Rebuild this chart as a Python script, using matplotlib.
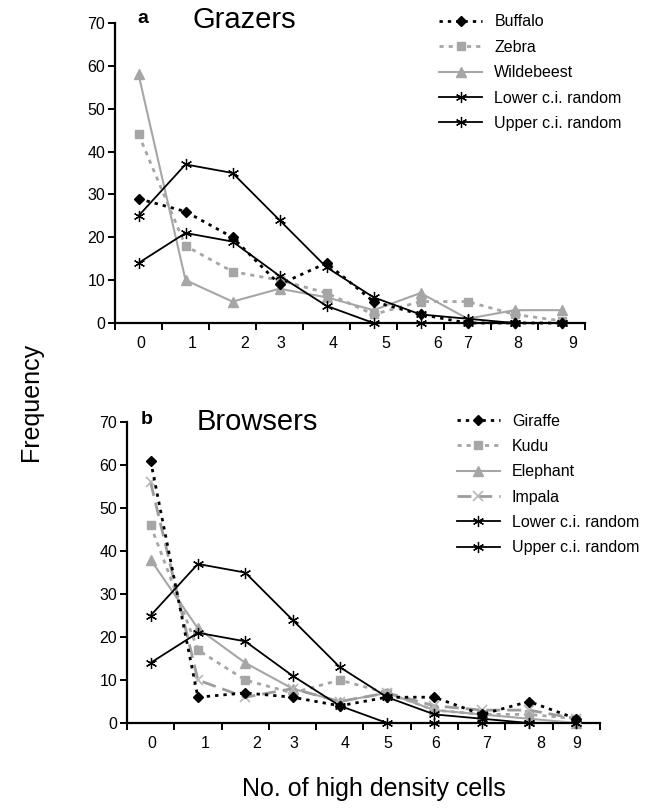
import matplotlib.pyplot as plt
import numpy as np

plt.rcParams['font.family'] = ['Liberation Sans', 'DejaVu Sans']

# x categories (number of high density cells)
cats = list(range(10))
xlabels = ['0', '1', '2', '3', '4', '5', '6', '7', '8', '9']
# label positions as they sit under the axis (hand placed in the original)
xlab_pos_a = [0.54, 1.65, 2.76, 3.52, 4.65, 5.76, 6.87, 7.5, 8.57, 9.73]
xlab_pos_b = [0.52, 1.65, 2.74, 3.52, 4.62, 5.51, 6.52, 7.61, 8.75, 9.51]

# random confidence intervals (same in both panels)
lower_ci = [14, 21, 19, 11, 4, 0, 0, 0, 0, 0]
upper_ci = [25, 37, 35, 24, 13, 6, 2, 1, 0, 0]

# grazers
buffalo = [29, 26, 20, 9, 14, 5, 2, 0, 0, 0]
zebra = [44, 18, 12, 10, 7, 2, 5, 5, 2, 0.5]
wildebeest = [58, 10, 5, 8, 6, 3, 7, 1, 3, 3]

# browsers
giraffe = [61, 6, 7, 6, 4, 6, 6, 2, 5, 1]
kudu = [46, 17, 10, 7, 10, 7, 3, 2, 2, 1]
elephant = [38, 22, 14, 8, 5, 7, 3, 2, 1, 0]
impala = [56, 10, 6, 8, 5, 7, 4, 3, 3, 1]

GRAY = '#a6a6a6'
LGRAY = '#b8b8b8'
ast = (6, 2, 0)

fig = plt.figure(figsize=(6.51, 8.11), dpi=100)
axa = fig.add_axes([0.1767, 0.6017, 0.722, 0.370])
axb = fig.add_axes([0.195, 0.1085, 0.7266, 0.371])

xs = np.array(cats) + 0.5


def style_axis(ax, lab_pos):
    ax.set_xlim(0, 10)
    ax.set_ylim(0, 70)
    ax.spines['top'].set_visible(False)
    ax.spines['right'].set_visible(False)
    ax.spines['left'].set_linewidth(1.6)
    ax.spines['bottom'].set_linewidth(1.6)
    ax.set_yticks(range(0, 71, 10))
    ax.tick_params(axis='y', direction='out', length=5, width=1.4, labelsize=11.5, pad=2)
    ax.set_xticks(range(0, 11), minor=True)
    ax.set_xticks(lab_pos)
    ax.set_xticklabels(xlabels)
    ax.tick_params(axis='x', which='major', length=0, labelsize=11.5, pad=9)
    ax.tick_params(axis='x', which='minor', direction='out', length=5, width=1.4)


def ci_lines(ax):
    ax.plot(xs, lower_ci, color='black', lw=1.3, marker=ast, ms=8, mew=0.9,
            label='Lower c.i. random', clip_on=False, zorder=5)
    ax.plot(xs, upper_ci, color='black', lw=1.3, marker=ast, ms=8, mew=0.9,
            label='Upper c.i. random', clip_on=False, zorder=5)


leg_kw = dict(frameon=False, fontsize=11.5, handlelength=2.7, labelspacing=0.65,
              handletextpad=0.75, borderaxespad=0, bbox_transform=fig.transFigure)

# panel a
axa.plot(xs, buffalo, color='black', lw=2, ls=(0, (1.2, 1.8)), marker='D', ms=5.5,
         label='Buffalo', clip_on=False, zorder=4)
axa.plot(xs, zebra, color=GRAY, lw=2, ls=(0, (1.5, 1.8)), marker='s', ms=6,
         label='Zebra', clip_on=False, zorder=3)
axa.plot(xs, wildebeest, color=GRAY, lw=1.5, marker='^', ms=7,
         label='Wildebeest', clip_on=False, zorder=3)
ci_lines(axa)
style_axis(axa, xlab_pos_a)
axa.text(0.47, 71, 'a', fontsize=14, fontweight='bold', va='center')
axa.text(1.65, 70.6, 'Grazers', fontsize=21, va='center')
axa.legend(loc='upper left', bbox_to_anchor=(0.665, 0.99), **leg_kw)

# panel b
axb.plot(xs, giraffe, color='black', lw=2, ls=(0, (1.2, 1.8)), marker='D', ms=5.5,
         label='Giraffe', clip_on=False, zorder=4)
axb.plot(xs, kudu, color=GRAY, lw=2, ls=(0, (1.5, 1.8)), marker='s', ms=6,
         label='Kudu', clip_on=False, zorder=3)
axb.plot(xs, elephant, color=GRAY, lw=1.5, marker='^', ms=7,
         label='Elephant', clip_on=False, zorder=3)
axb.plot(xs, impala, color='#9c9c9c', lw=2, ls=(0, (5, 2.5)), marker='x', ms=7,
         mec=LGRAY, mew=1.2, label='Impala', clip_on=False, zorder=3)
ci_lines(axb)
style_axis(axb, xlab_pos_b)
axb.text(0.3, 70.5, 'b', fontsize=14, fontweight='bold', va='center')
axb.text(1.48, 70, 'Browsers', fontsize=21, va='center')
axb.legend(loc='upper left', bbox_to_anchor=(0.692, 0.498), **leg_kw)

fig.text(0.047, 0.505, 'Frequency', rotation=90, fontsize=18, ha='center', va='center')
fig.text(0.575, 0.027, 'No. of high density cells', fontsize=18, ha='center', va='center')

fig.savefig('out.png', dpi=100)
